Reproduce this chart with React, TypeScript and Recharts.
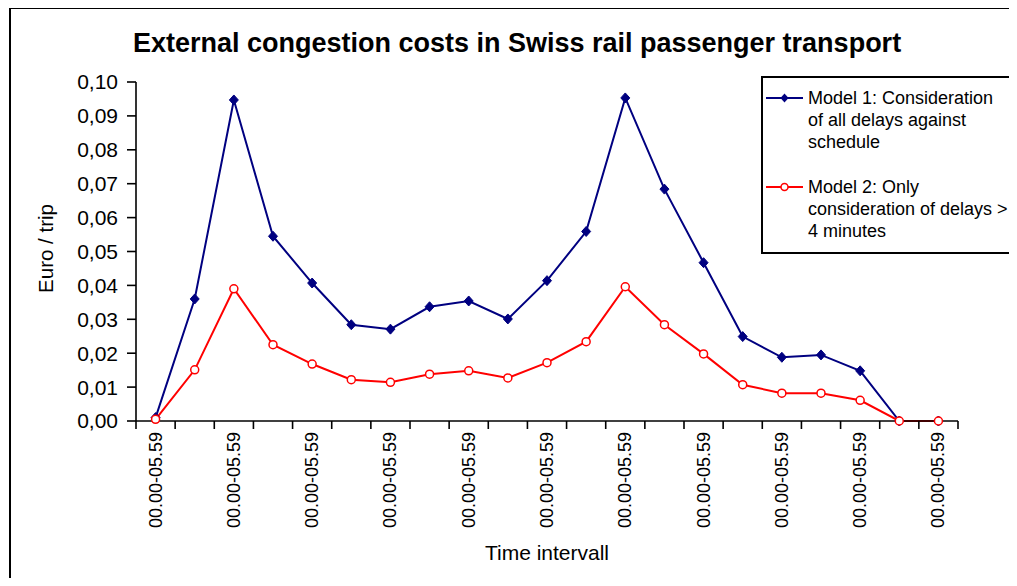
import React from "react";
import { LineChart, Line, XAxis, YAxis, Legend } from "recharts";

// 21 intervals along the day, all carrying the same label
const timeIntervals = [
  "00.00-05.59", "00.00-05.59", "00.00-05.59", "00.00-05.59", "00.00-05.59",
  "00.00-05.59", "00.00-05.59", "00.00-05.59", "00.00-05.59", "00.00-05.59",
  "00.00-05.59", "00.00-05.59", "00.00-05.59", "00.00-05.59", "00.00-05.59",
  "00.00-05.59", "00.00-05.59", "00.00-05.59", "00.00-05.59", "00.00-05.59",
  "00.00-05.59",
];

// Euro per trip
const model1 = [
  0.001, 0.036, 0.0947, 0.0545, 0.0407, 0.0284, 0.0271, 0.0337, 0.0354, 0.0301,
  0.0414, 0.0559, 0.0953, 0.0684, 0.0467, 0.0249, 0.0188, 0.0195, 0.0148, 0, 0,
];
const model2 = [
  0.0005, 0.0151, 0.039, 0.0225, 0.0168, 0.0122, 0.0114, 0.0138, 0.0148, 0.0127,
  0.0172, 0.0234, 0.0396, 0.0284, 0.0198, 0.0107, 0.0082, 0.0082, 0.0061, 0, 0,
];

const yTicks = [0, 0.01, 0.02, 0.03, 0.04, 0.05, 0.06, 0.07, 0.08, 0.09, 0.1];

const seriesNames = [
  "Model 1: Consideration of all delays against schedule",
  "Model 2: Only consideration of delays > 4 minutes",
];

const data = timeIntervals.map((t, i) => ({
  interval: t,
  m1: model1[i],
  m2: model2[i],
}));

const FONT = "'Liberation Sans', Arial, sans-serif";
const W = 1017;
const H = 586;
const margin = { top: 82, right: 59, bottom: 0, left: 60 };
const Y_AXIS_W = 76;
const X_AXIS_H = 165;
const PLOT_W = W - margin.left - margin.right - Y_AXIS_W;
const BAND = PLOT_W / timeIntervals.length;

const NAVY = "#000080";
const RED = "#ff0000";

const comma = (v: number) => v.toFixed(2).replace(".", ",");

// tick marks sit on the interval boundaries, labels on every other interval
const IntervalTick = (props: any) => {
  const { x, y, payload, index } = props;
  const i = typeof index === "number" ? index : payload.index;
  return (
    <g>
      <line x1={x - BAND / 2} x2={x - BAND / 2} y1={y} y2={y + 8} stroke="#000" strokeWidth={1.6} />
      {i === timeIntervals.length - 1 && (
        <line x1={x + BAND / 2} x2={x + BAND / 2} y1={y} y2={y + 8} stroke="#000" strokeWidth={1.6} />
      )}
      {i % 2 === 0 && (
        <text
          transform={`translate(${x},${y + 11}) rotate(-90)`}
          textAnchor="end"
          dominantBaseline="central"
          fontSize={18}
          fontFamily={FONT}
          fill="#000"
        >
          {payload.value}
        </text>
      )}
    </g>
  );
};

const Diamond = (props: any) => {
  const { cx, cy } = props;
  if (cx == null || cy == null) return <g />;
  return (
    <path
      d={`M${cx},${cy - 5} L${cx + 4.5},${cy} L${cx},${cy + 5} L${cx - 4.5},${cy} Z`}
      fill={NAVY}
      stroke={NAVY}
      strokeWidth={1}
    />
  );
};

const LegendBox = () => {
  const colors = [NAVY, RED];
  return (
    <div
      style={{
        border: "2px solid #000",
        boxSizing: "border-box",
        width: 252,
        height: 178,
        background: "#fff",
        fontFamily: FONT,
        fontSize: 18,
        lineHeight: "22px",
        color: "#000",
        padding: "9px 0 0 2px",
      }}
    >
      {seriesNames.map((name, i) => (
        <div key={name} style={{ display: "flex", marginBottom: i === 0 ? 23 : 0 }}>
          <svg width={43} height={22} style={{ flex: "none" }}>
            <line x1={1} x2={38} y1={11} y2={11} stroke={colors[i]} strokeWidth={2} />
            {i === 0 ? (
              <path d="M19.5,6.5 L23.5,11 L19.5,15.5 L15.5,11 Z" fill={NAVY} />
            ) : (
              <circle cx={19.5} cy={11} r={3.5} fill="#fff" stroke={RED} strokeWidth={1.5} />
            )}
          </svg>
          <div style={{ width: 202, flex: "none" }}>{name}</div>
        </div>
      ))}
    </div>
  );
};

export default function App() {
  return (
    <div
      style={{
        position: "relative",
        width: W,
        height: H,
        margin: -8,
        overflow: "hidden",
        background: "#fff",
      }}
    >
      <div
        style={{
          position: "absolute",
          left: 9,
          top: 7,
          width: 1200,
          height: 800,
          border: "2px solid #000",
        }}
      />
      <div
        style={{
          position: "absolute",
          left: 517,
          top: 29.5,
          transform: "translateX(-50%)",
          whiteSpace: "nowrap",
          fontFamily: FONT,
          fontWeight: "bold",
          fontSize: 27,
          lineHeight: 1,
          color: "#000",
        }}
      >
        External congestion costs in Swiss rail passenger transport
      </div>
      <div style={{ position: "absolute", left: 0, top: 0 }}>
        <LineChart width={W} height={H} data={data} margin={margin}>
          <XAxis
            dataKey="interval"
            height={X_AXIS_H}
            interval={0}
            padding={{ left: BAND / 2, right: BAND / 2 }}
            axisLine={{ stroke: "#000", strokeWidth: 1.6 }}
            tickLine={false}
            tickSize={0}
            tickMargin={0}
            tick={IntervalTick}
            label={{
              value: "Time intervall",
              position: "center",
              dy: 49,
              fontSize: 21,
              fontFamily: FONT,
              fill: "#000",
            }}
          />
          <YAxis
            width={Y_AXIS_W}
            domain={[0, 0.1]}
            ticks={yTicks}
            interval={0}
            tickFormatter={comma}
            axisLine={{ stroke: "#000", strokeWidth: 1.6 }}
            tickLine={{ stroke: "#000", strokeWidth: 1.6 }}
            tickSize={9}
            tickMargin={9}
            tick={{ fontSize: 21, fontFamily: FONT, fill: "#000" }}
            label={{
              value: "Euro / trip",
              angle: -90,
              position: "center",
              dx: -52,
              dy: -3,
              fontSize: 20.5,
              fontFamily: FONT,
              fill: "#000",
            }}
          />
          <Legend
            layout="vertical"
            align="center"
            verticalAlign="middle"
            content={() => <LegendBox />}
            wrapperStyle={{ left: 761, top: 76, width: 252, height: 178 }}
          />
          <Line
            dataKey="m1"
            name={seriesNames[0]}
            stroke={NAVY}
            strokeWidth={2}
            dot={<Diamond />}
            isAnimationActive={false}
          />
          <Line
            dataKey="m2"
            name={seriesNames[1]}
            stroke={RED}
            strokeWidth={2}
            dot={{ r: 4, fill: "#fff", stroke: RED, strokeWidth: 1.5 }}
            isAnimationActive={false}
          />
        </LineChart>
      </div>
    </div>
  );
}
